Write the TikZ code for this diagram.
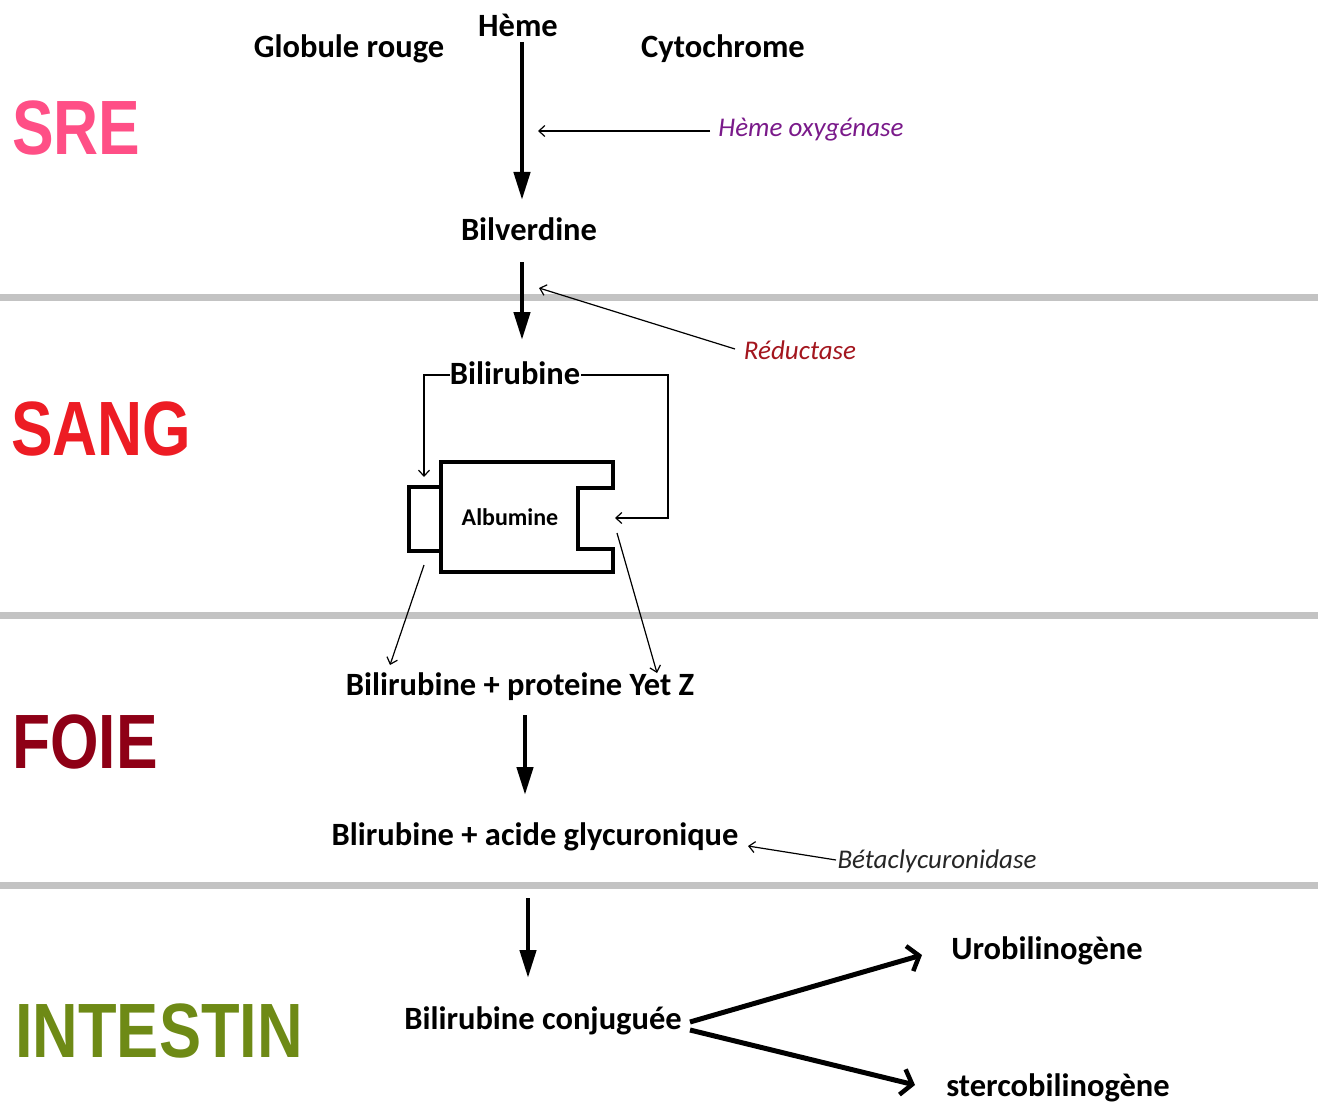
\documentclass[tikz,border=0pt]{standalone}
\usepackage{fontspec}
\setmainfont{Carlito}
\newfontfamily\sectfont{Liberation Sans}
\usetikzlibrary{arrows.meta,calc}
\definecolor{sre}{HTML}{FF4F86}
\definecolor{sang}{HTML}{ED1C24}
\definecolor{foie}{HTML}{8E0016}
\definecolor{intestin}{HTML}{6E8A16}
\definecolor{sepgray}{HTML}{C3C3C3}
\definecolor{oxycol}{HTML}{7A1A8A}
\definecolor{reduccol}{HTML}{A3161E}
\tikzset{
 lbl/.style={font=\fontsize{32.5}{36}\selectfont\bfseries, inner sep=0pt, yshift=-2pt},
 enz/.style={font=\fontsize{27}{30}\selectfont\itshape, inner sep=0pt},
 sect/.style={inner sep=0pt, anchor=base west, font=\sectfont\bfseries\fontsize{77}{80}\selectfont},
 sepline/.style={sepgray, line width=7pt},
 thickarrow/.style={line width=4.5pt, -{Triangle[length=28pt,width=16pt]}},
 thinarrow/.style={line width=1.2pt, -{Straight Barb[length=6pt,width=11pt]}},
 brancharrow/.style={line width=5pt, -{Straight Barb[length=10pt,width=26pt,line width=4.5pt]}},
 albbox/.style={line width=4pt, line join=miter}
}
\begin{document}
\begin{tikzpicture}[x=1pt,y=-1pt]
\useasboundingbox (0,0) rectangle (1318,1113);
% separators
\draw[sepline] (0,297) -- (1318,297);
\draw[sepline] (0,615) -- (1318,615);
\draw[sepline] (0,885) -- (1318,885);
% section labels
\node[sect, text=sre] (sre) at (12,155) {\scalebox{0.81}[1]{SRE}};
\node[sect, text=sang] (sang) at (11,455) {\scalebox{0.81}[1]{SANG}};
\node[sect, text=foie] (foie) at (12,768) {\scalebox{0.81}[1]{FOIE}};
\node[sect, text=intestin] (intestin) at (15,1057) {\scalebox{0.82}[1]{INTESTIN}};
% labels
\node[lbl] (heme) at (518,23) {Hème};
\node[lbl] (globule) at (349,47) {Globule rouge};
\node[lbl] (cyto) at (723,47) {Cytochrome};
\node[lbl] (bilv) at (529,227) {Bilverdine};
\node[lbl] (bilir) at (515,371) {Bilirubine};
\node[lbl, font=\fontsize{24}{28}\selectfont\bfseries] (alb) at (510,515) {Albumine};
\node[lbl] (prot) at (520,685) {Bilirubine + proteine Yet Z};
\node[lbl] (glyc) at (535,835) {Blirubine + acide glycuronique};
\node[lbl] (conj) at (543,1019) {Bilirubine conjuguée};
\node[lbl] (uro) at (1047,949) {Urobilinogène};
\node[lbl] (sterco) at (1058,1086) {stercobilinogène};
\node[enz, text=oxycol] (oxy) at (811,130) {Hème oxygénase};
\node[enz, text=reduccol] (reduc) at (800,350) {Réductase};
\node[enz, text=black!85] (beta) at (937,861) {Bétaclycuronidase};
% albumine shape
\draw[albbox] (441,462) -- (613,462) -- (613,488) -- (578,488) -- (578,549) -- (613,549) -- (613,572) -- (441,572) -- cycle;
\draw[albbox] (409,487) rectangle (441,551);
% coordinates
\coordinate (oxyT) at (538,131);
\coordinate (redT) at (539,288);
\coordinate (albL) at (424,477);
\coordinate (albR) at (615,518);
\coordinate (albBL) at (424,565);
\coordinate (albBR) at (617,533);
% thick arrows
\draw[thickarrow] ($(heme)+(4,17)$) -- ($(bilv)+(-7,-29)$);
\draw[thickarrow] ($(bilv)+(-7,33)$) -- ($(bilir)+(7,-33)$);
\draw[thickarrow] ($(prot)+(5,28)$) -- ($(glyc)+(-10,-42)$);
\draw[thickarrow] ($(glyc)+(-7,61)$) -- ($(conj)+(-15,-43)$);
\draw[brancharrow] ($(conj)+(147,1)$) -- ($(uro)+(-125,4)$);
\draw[brancharrow] ($(conj)+(147,9)$) -- ($(sterco)+(-143,-3)$);
% thin arrows
\draw[thinarrow] ($(oxy)+(-101,1)$) -- (oxyT);
\draw[thinarrow] ($(reduc)+(-65,-1)$) -- (redT);
\draw[thinarrow] ($(beta)+(-101,-1)$) -- ($(glyc)+(213,9)$);
\draw[thinarrow] ($(bilir)+(-65,2)$) -| (albL);
\draw[thinarrow] ($(bilir)+(66,2)$) -| ($(albR)+(53,0)$) -- (albR);
\draw[thinarrow] (albBL) -- ($(prot)+(-130,-22)$);
\draw[thinarrow] (albBR) -- ($(prot)+(137,-14)$);
\end{tikzpicture}
\end{document}
